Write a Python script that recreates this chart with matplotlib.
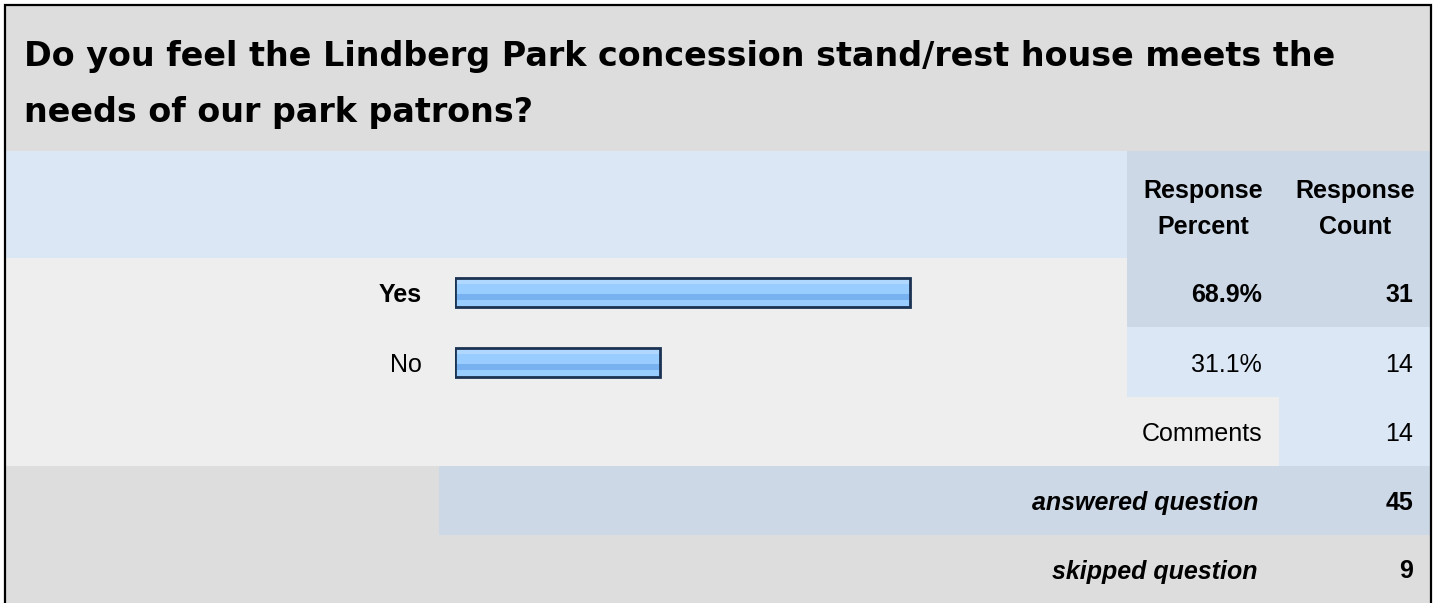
import matplotlib
matplotlib.use('Agg')
import matplotlib.pyplot as plt
from matplotlib.patches import Rectangle
from matplotlib.colors import to_rgb
import numpy as np

plt.rcParams['font.family'] = ['Liberation Sans', 'DejaVu Sans']

# data
title_lines = ['Do you feel the Lindberg Park concession stand/rest house meets the',
               'needs of our park patrons?']
answers = ['Yes', 'No']
percents = [68.9, 31.1]
counts = [31, 14]
comment_count = 14
answered = 45
skipped = 9

W, H = 1435, 603
fig = plt.figure(figsize=(W / 100, H / 100), dpi=100)
ax = fig.add_axes([0, 0, 1, 1])
ax.set_xlim(0, W)
ax.set_ylim(H, 0)
ax.axis('off')

GRAY = '#dddddd'
LIGHT = '#eeeeee'
PALE_BLUE = '#dce7f5'
MID_BLUE = '#ccd8e6'

def box(x0, y0, x1, y1, color):
    ax.add_patch(Rectangle((x0, y0), x1 - x0, y1 - y0, facecolor=color,
                           edgecolor='none', zorder=0))

# row boundaries (pixels)
rows = [151, 258, 327, 397, 466, 535, 603]
c_pct, c_cnt, c_end = 1127, 1279, 1431

box(5, 5, c_end, rows[0], GRAY)
box(5, rows[0], c_pct, rows[1], PALE_BLUE)
box(c_pct, rows[0], c_end, rows[1], MID_BLUE)
box(5, rows[1], c_pct, rows[4], LIGHT)
box(c_pct, rows[1], c_end, rows[2], MID_BLUE)
box(c_pct, rows[2], c_end, rows[3], PALE_BLUE)
box(c_pct, rows[3], c_cnt, rows[4], LIGHT)
box(c_cnt, rows[3], c_end, rows[4], PALE_BLUE)
box(5, rows[4], 439, rows[5], GRAY)
box(439, rows[4], c_end, rows[5], MID_BLUE)
box(5, rows[5], c_end, rows[6], GRAY)

# outer frame
ax.plot([5, 5, c_end, c_end], [H, 5, 5, H], color='black', lw=1.6,
        solid_joinstyle='miter', zorder=5)

# the title in the reference is rendered wide, DejaVu matches its width best
for y, line in zip([66, 122], title_lines):
    ax.text(24, y, line, fontsize=24, fontweight='bold', family='DejaVu Sans',
            va='baseline', ha='left')

fs = 18
pct_x = 1262
cnt_x = 1413
ax.text(1203, 198, 'Response', fontsize=fs, fontweight='bold', ha='center', va='baseline')
ax.text(1203, 234, 'Percent', fontsize=fs, fontweight='bold', ha='center', va='baseline')
ax.text(1355, 198, 'Response', fontsize=fs, fontweight='bold', ha='center', va='baseline')
ax.text(1355, 234, 'Count', fontsize=fs, fontweight='bold', ha='center', va='baseline')

def row_text(x, row, s, **kw):
    yb = (rows[row] + rows[row + 1]) / 2 + 9.5
    ax.text(x, yb, s, fontsize=fs, ha='right', va='baseline', **kw)

for i, (a, p, c) in enumerate(zip(answers, percents, counts)):
    w = 'bold' if i == 0 else 'normal'
    row_text(422, 1 + i, a, fontweight=w)
    row_text(pct_x, 1 + i, f'{p:.1f}%', fontweight=w)
    row_text(cnt_x, 1 + i, str(c), fontweight=w)

row_text(pct_x, 3, 'Comments')
row_text(cnt_x, 3, str(comment_count))

row_text(1258, 4, 'answered question', fontweight='bold', fontstyle='italic')
row_text(cnt_x, 4, str(answered), fontweight='bold')
row_text(1258, 5, 'skipped question', fontweight='bold', fontstyle='italic')
row_text(cnt_x, 5, str(skipped), fontweight='bold')

# bar area: 100% spans 660 px starting at x=455
bx0, bw = 455, 660
bax = fig.add_axes([bx0 / W, 1 - rows[3] / H, bw / W, (rows[3] - rows[1]) / H])
bax.axis('off')
bar_h = 29 / 69.5
bars = bax.barh(range(len(answers)), percents, height=bar_h, left=0,
                facecolor='none', edgecolor='#1b3253', linewidth=2.0, zorder=3)

stripes = [('#c8e4ff', 2), ('#b0d8ff', 3), ('#99ccff', 9), ('#78b1ef', 5), ('#99ccff', 6)]
grad = np.concatenate([np.tile(to_rgb(c), (n, 1)) for c, n in stripes])[:, None, :]
for b in bars:
    x0, y0 = b.get_x(), b.get_y()
    im = bax.imshow(grad, extent=(x0, x0 + b.get_width(), y0 + b.get_height(), y0),
                    aspect='auto', interpolation='nearest', zorder=2)
    im.set_clip_path(b)
bax.set_xlim(0, 100)
bax.set_ylim(1.5, -0.5)

fig.savefig('out.png', dpi=100)
